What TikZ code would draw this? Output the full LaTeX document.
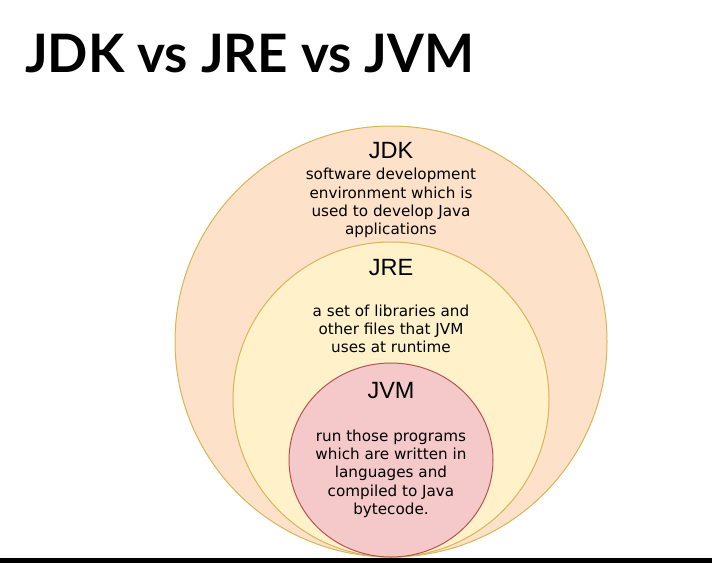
\documentclass[tikz,border=0pt]{standalone}
\usepackage{fontspec}
\setmainfont{DejaVu Sans}
\newfontfamily\titlefont{Lato}
\newfontfamily\headfont{Liberation Sans}
\usepackage{xcolor}
\usetikzlibrary{shapes.geometric}

\definecolor{jdkfill}{HTML}{FDE1C9}
\definecolor{jrefill}{HTML}{FFF1CA}
\definecolor{jvmfill}{HTML}{F5C9C9}
\definecolor{goldline}{HTML}{D6B656}
\definecolor{redline}{HTML}{B85450}

\begin{document}
\begin{tikzpicture}[
    x=1pt, y=-1pt,
    ring/.style={ellipse,draw=goldline,line width=1pt,inner sep=0pt},
    head/.style={font=\headfont\fontsize{23.5}{27}\selectfont},
    desc/.style={align=center,font=\fontsize{15.2}{18.3}\selectfont},
  ]
  \useasboundingbox[fill=white] (0,0) rectangle (712,563);

  % -- title --
  \node[anchor=base west,inner sep=0pt,font=\titlefont\bfseries\fontsize{53}{60}\selectfont]
       (title) at (25,72) {JDK vs JRE vs JVM};

  % -- the three nested rings --
  \node[ring,fill=jdkfill,minimum width=432,minimum height=431] (jdk) at (391,341.5) {};
  \node[ring,fill=jrefill,minimum width=316,minimum height=315] (jre) at (391,399.5) {};
  \node[ring,fill=jvmfill,draw=redline,minimum width=204,minimum height=194] (jvm) at (391,460) {};

  % -- labels --
  \node[head] (jdkhead) at (391,151) {JDK};
  \node[desc] (jdkdesc) at (391,203)
       {software development\\environment which is\\used to develop Java\\applications};
  \node[head] (jrehead) at (391,268) {JRE};
  \node[desc] (jredesc) at (391,329)
       {a set of libraries and\\other files that JVM\\uses at runtime};
  \node[head] (jvmhead) at (391,391) {JVM};
  \node[desc] (jvmdesc) at (391,473.5)
       {run those programs\\which are written in\\languages and\\compiled to Java\\bytecode.};

  % -- bottom edge --
  \fill[black] (0,558) rectangle (712,563);
\end{tikzpicture}
\end{document}
